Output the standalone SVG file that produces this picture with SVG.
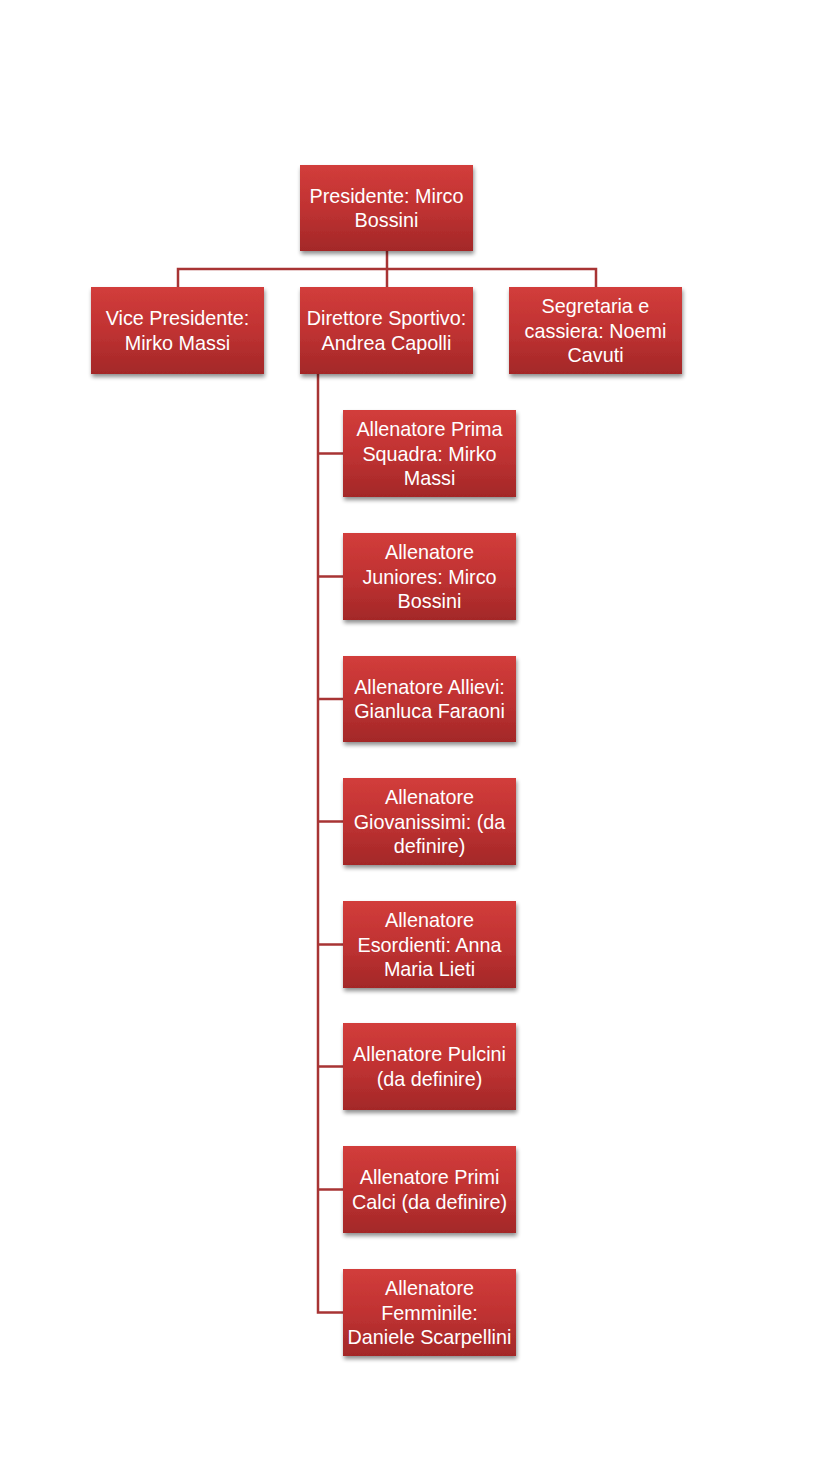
<svg xmlns="http://www.w3.org/2000/svg" width="826" height="1469" viewBox="0 0 826 1469">
<defs>
<linearGradient id="g" x1="0" y1="0" x2="0" y2="1">
<stop offset="0" stop-color="#d23d3b"/>
<stop offset="0.5" stop-color="#c03232"/>
<stop offset="1" stop-color="#a32828"/>
</linearGradient>
<filter id="sh" x="-10%" y="-10%" width="130%" height="130%">
<feGaussianBlur in="SourceAlpha" stdDeviation="2"/>
<feOffset dx="1" dy="3" result="b"/>
<feComponentTransfer><feFuncA type="linear" slope="0.45"/></feComponentTransfer>
<feMerge><feMergeNode/><feMergeNode in="SourceGraphic"/></feMerge>
</filter>
</defs>
<style>
.box{fill:url(#g);filter:url(#sh)}
.t{font-family:"Liberation Sans","DejaVu Sans",sans-serif;font-size:19.8px;fill:#ffffff;text-anchor:middle}
.c{fill:none;stroke:#a83434;stroke-width:2.5;stroke-linejoin:miter}
</style>
<rect width="826" height="1469" fill="#ffffff"/>
<g id="connectors">
<path class="c" d="M387 251V269M178 287V269H596V287M387 269V287"/>
<path class="c" d="M318 374V1312.5H343"/>
<path class="c" d="M318 453.5H343M318 576.5H343M318 699H343M318 821.5H343M318 944.5H343M318 1066.5H343M318 1189.5H343"/>
</g>
<g id="n-presidente"><rect class="box" x="300" y="165" width="173" height="86"/><text class="t" x="386.5" y="202.5">Presidente: Mirco</text><text class="t" x="386.5" y="227">Bossini</text></g>
<g id="n-vice"><rect class="box" x="91" y="287" width="173" height="87"/><text class="t" x="177.5" y="325">Vice Presidente:</text><text class="t" x="177.5" y="349.5">Mirko Massi</text></g>
<g id="n-direttore"><rect class="box" x="300" y="287" width="173" height="87"/><text class="t" x="386.5" y="325">Direttore Sportivo:</text><text class="t" x="386.5" y="349.5">Andrea Capolli</text></g>
<g id="n-segretaria"><rect class="box" x="509" y="287" width="173" height="87"/><text class="t" x="595.5" y="313">Segretaria e</text><text class="t" x="595.5" y="337.5">cassiera: Noemi</text><text class="t" x="595.5" y="362">Cavuti</text></g>
<g id="n-prima"><rect class="box" x="343" y="410" width="173" height="87"/><text class="t" x="429.5" y="436">Allenatore Prima</text><text class="t" x="429.5" y="460.5">Squadra: Mirko</text><text class="t" x="429.5" y="485">Massi</text></g>
<g id="n-juniores"><rect class="box" x="343" y="533" width="173" height="87"/><text class="t" x="429.5" y="559">Allenatore</text><text class="t" x="429.5" y="583.5">Juniores: Mirco</text><text class="t" x="429.5" y="608">Bossini</text></g>
<g id="n-allievi"><rect class="box" x="343" y="656" width="173" height="86"/><text class="t" x="429.5" y="693.5">Allenatore Allievi:</text><text class="t" x="429.5" y="718">Gianluca Faraoni</text></g>
<g id="n-giovanissimi"><rect class="box" x="343" y="778" width="173" height="87"/><text class="t" x="429.5" y="804">Allenatore</text><text class="t" x="429.5" y="828.5">Giovanissimi: (da</text><text class="t" x="429.5" y="853">definire)</text></g>
<g id="n-esordienti"><rect class="box" x="343" y="901" width="173" height="87"/><text class="t" x="429.5" y="927">Allenatore</text><text class="t" x="429.5" y="951.5">Esordienti: Anna</text><text class="t" x="429.5" y="976">Maria Lieti</text></g>
<g id="n-pulcini"><rect class="box" x="343" y="1023" width="173" height="87"/><text class="t" x="429.5" y="1061">Allenatore Pulcini</text><text class="t" x="429.5" y="1085.5">(da definire)</text></g>
<g id="n-primicalci"><rect class="box" x="343" y="1146" width="173" height="87"/><text class="t" x="429.5" y="1184">Allenatore Primi</text><text class="t" x="429.5" y="1208.5">Calci (da definire)</text></g>
<g id="n-femminile"><rect class="box" x="343" y="1269" width="173" height="87"/><text class="t" x="429.5" y="1295">Allenatore</text><text class="t" x="429.5" y="1319.5">Femminile:</text><text class="t" x="429.5" y="1344">Daniele Scarpellini</text></g>
</svg>
